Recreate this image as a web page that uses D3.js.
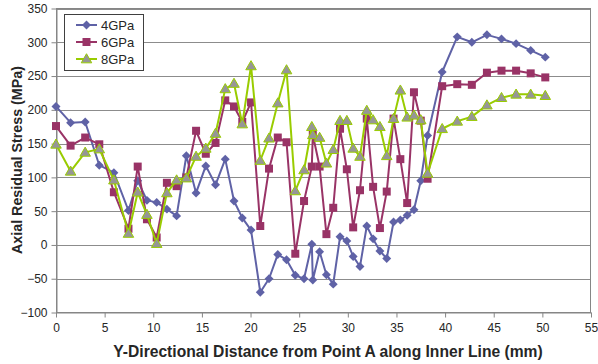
<!DOCTYPE html>
<html lang="en">
<head>
<meta charset="UTF-8">
<title>Axial Residual Stress</title>
<style>
  body { margin: 0; background: #fff; }
  svg { display: block; font-family: "Liberation Sans", Arial, sans-serif; }
</style>
</head>
<body>
<svg id="chart" width="598" height="364"></svg>
<script src="https://cdn.jsdelivr.net/npm/d3@7"></script>
<script>
// distance along inner line (mm)
var dist = [0, 1.5, 3, 4.45, 5.95, 7.45, 8.4, 9.35, 10.35, 11.4, 12.4, 13.4, 14.4, 15.4, 16.4, 17.4,
  18.3, 19.15, 20.05, 21, 21.9, 22.8, 23.7, 24.6, 25.5, 26.3, 26.4, 27.1, 27.8, 28.5, 29.2, 29.9,
  30.55, 31.25, 31.95, 32.6, 33.3, 34, 34.7, 35.4, 36.1, 36.8, 37.5, 38.2, 39.7, 41.25, 42.75,
  44.3, 45.8, 47.3, 48.8, 50.3];

var gpa4 = [205, 181, 182, 118, 107, 51, 95, 66, 63, 53, 43, 132, 77, 117, 89, 127,
  65, 40, 22, -70, -50, -14, -22, -45, -50, 1, -52, -10, -44, -58, 12, 6,
  -17, -32, 28, 9, -9, -20, 34, 37, 44, 52, 95, 162, 256, 308, 300,
  311, 305, 298, 288, 278];

var gpa6 = [176, 147, 159, 149, 78, 24, 116, 38, 11, 92, 87, 100, 169, 135, 151, 214,
  205, 182, 211, 28, 113, 159, 152, -13, 65, 116, 163, 116, 16, 55, 172, 112,
  26, 81, 187, 86, 25, 79, 187, 127, 62, 226, 184, 98, 235, 238, 237,
  255, 258, 258, 254, 248];

var gpa8 = [149, 109, 137, 142, 96, 17, 78, 45, 2, 77, 96, 99, 131, 143, 165, 231,
  239, 179, 265, 125, 158, 210, 259, 80, 111, 175, 163, 159, 121, 141, 184, 184,
  143, 131, 199, 185, 175, 132, 187, 229, 189, 192, 185, 106, 172, 183, 190,
  207, 218, 223, 223, 221];

var seriesNames = ["4GPa", "6GPa", "8GPa"];
var xTicks = d3.range(0, 56, 5);
var yTicks = d3.range(-100, 351, 50);

var svg = d3.select("#chart"),
    x = d3.scaleLinear().domain([0, 55]).range([56, 591]),
    y = d3.scaleLinear().domain([-100, 350]).range([312.5, 8.5]);

var series = [
  {name: seriesNames[0], values: gpa4, line: "#5f62a6", fill: "#5f62a6", stroke: "none", shape: "diamond"},
  {name: seriesNames[1], values: gpa6, line: "#993366", fill: "#993366", stroke: "none", shape: "square"},
  {name: seriesNames[2], values: gpa8, line: "#99cc00", fill: "#969696", stroke: "#99cc00", shape: "triangle"}
];

function markerPath(shape) {
  if (shape == "diamond") return d3.symbol(d3.symbolSquare, 40)();
  if (shape == "square") return d3.symbol(d3.symbolSquare, 64)();
  return d3.symbol(d3.symbolTriangle, 48)();
}
function markerTransform(shape, px, py) {
  var t = "translate(" + px + "," + py + ")";
  if (shape == "diamond") t += " rotate(45)";
  if (shape == "triangle") t += " translate(0,0.8)";
  return t;
}

// gridlines
svg.append("g").selectAll("line")
  .data(yTicks.slice(1))
  .join("line")
    .attr("x1", 56).attr("x2", 591)
    .attr("y1", function(d) { return Math.round(y(d)) + 0.5; })
    .attr("y2", function(d) { return Math.round(y(d)) + 0.5; })
    .attr("stroke", "#8c8c8c")
    .attr("stroke-width", 1);

// plot border
svg.append("rect")
  .attr("x", 56.5).attr("y", 8.5)
  .attr("width", 534).attr("height", 304)
  .attr("fill", "none")
  .attr("stroke", "#868686");

// axes
var yAxis = svg.append("g")
  .attr("transform", "translate(56.5,0)")
  .call(d3.axisLeft(y).tickValues(yTicks).tickSize(5).tickSizeOuter(0).tickPadding(4));
var xAxis = svg.append("g")
  .attr("transform", "translate(0,312.5)")
  .call(d3.axisBottom(x).tickValues(xTicks).tickSize(5).tickSizeOuter(0).tickPadding(6));

[yAxis, xAxis].forEach(function(a) {
  a.select(".domain").attr("stroke", "#868686");
  a.selectAll(".tick line").attr("stroke", "#868686");
  a.selectAll(".tick text")
    .attr("fill", "#262626")
    .style("font-size", "12px")
    .style("font-family", "'Liberation Sans', Arial, sans-serif");
});
yAxis.selectAll(".tick line").attr("y1", function() { return 0; });

// series
var line = d3.line()
  .x(function(d) { return x(d[0]); })
  .y(function(d) { return y(d[1]); });

series.forEach(function(s) {
  var pts = dist.map(function(d, i) { return [d, s.values[i]]; });
  var g = svg.append("g");
  g.append("path")
    .datum(pts)
    .attr("fill", "none")
    .attr("stroke", s.line)
    .attr("stroke-width", 2)
    .attr("stroke-linejoin", "round")
    .attr("d", line);
  g.selectAll("path.m")
    .data(pts)
    .join("path")
      .attr("class", "m")
      .attr("d", markerPath(s.shape))
      .attr("transform", function(d) { return markerTransform(s.shape, x(d[0]), y(d[1])); })
      .attr("fill", s.fill)
      .attr("stroke", s.stroke)
      .attr("stroke-width", 1);
});

// legend
var legend = svg.append("g");
legend.append("rect")
  .attr("x", 64.5).attr("y", 14.5)
  .attr("width", 79).attr("height", 56)
  .attr("fill", "#fff")
  .attr("stroke", "#404040");
series.forEach(function(s, i) {
  var ly = 25 + i * 17;
  legend.append("line")
    .attr("x1", 76).attr("x2", 97)
    .attr("y1", ly).attr("y2", ly)
    .attr("stroke", s.line).attr("stroke-width", 2);
  legend.append("path")
    .attr("d", markerPath(s.shape))
    .attr("transform", markerTransform(s.shape, 86.5, ly))
    .attr("fill", s.fill)
    .attr("stroke", s.stroke);
  legend.append("text")
    .attr("x", 101).attr("y", ly + 4.5)
    .attr("fill", "#262626")
    .style("font-size", "13px")
    .text(s.name);
});

// axis titles, fitted to the widths in the reference
function fitText(sel, target) {
  var size = 14;
  sel.style("font-size", size + "px");
  var w = sel.node().getComputedTextLength();
  sel.style("font-size", (size * target / w).toFixed(2) + "px");
}

var xt = svg.append("text")
  .attr("x", 328).attr("y", 357)
  .attr("text-anchor", "middle")
  .attr("fill", "#262626")
  .style("font-weight", "bold")
  .text("Y-Directional Distance from Point A along Inner Line (mm)");
fitText(xt, 430);

var yt = svg.append("text")
  .attr("transform", "translate(22,160) rotate(-90)")
  .attr("text-anchor", "middle")
  .attr("fill", "#262626")
  .style("font-weight", "bold")
  .text("Axial Residual Stress (MPa)");
fitText(yt, 188);
</script>
</body>
</html>
